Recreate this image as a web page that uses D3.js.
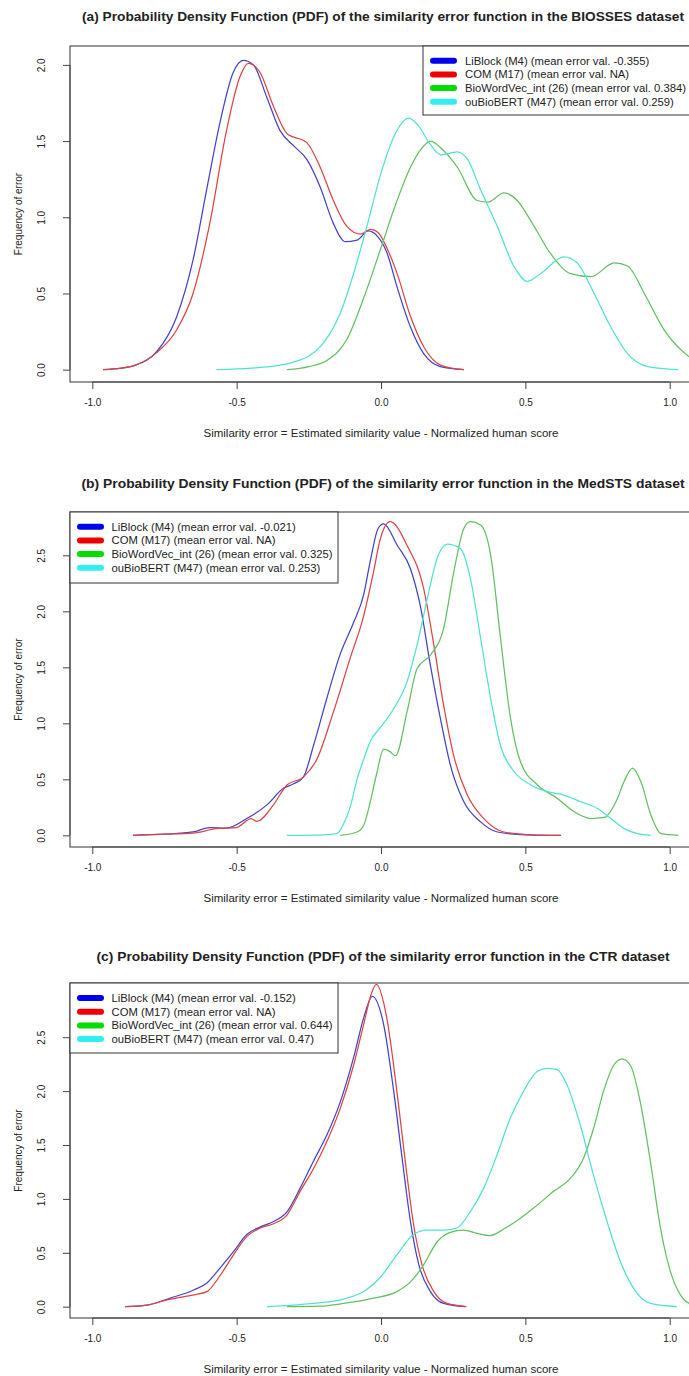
<!DOCTYPE html>
<html>
<head>
    <meta charset="utf-8">
    <script src="https://cdnjs.cloudflare.com/ajax/libs/d3/7.8.5/d3.min.js"></script>
    <style>
        body { margin: 0; background: #fff; }
        text { font-family: "Liberation Sans", Arial, sans-serif; fill: #222; }
        .title { font-weight: bold; font-size: 12px; }
        .tick-label, .axis-label { font-size: 10px; }
        .legend-text { font-size: 11px; }
        .frame { fill: none; stroke: #444; stroke-width: 1.1px; }
        .curve { fill: none; stroke-width: 1.25px; }
    </style>
</head>
<body>
    <div id="chart"></div>
    <script>
        const width = 689, height = 1376;

        // titles, legend labels and ticks
        const panelTitles = [
            "(a) Probability Density Function (PDF) of the similarity error function in the BIOSSES dataset",
            "(b) Probability Density Function (PDF) of the similarity error function in the MedSTS dataset",
            "(c) Probability Density Function (PDF) of the similarity error function in the CTR dataset"
        ];
        const seriesNames = ["LiBlock (M4)", "COM (M17)", "BioWordVec_int (26)", "ouBioBERT (M47)"];
        const meanErrors = [
            ["-0.355", "NA", "0.384", "0.259"],
            ["-0.021", "NA", "0.325", "0.253"],
            ["-0.152", "NA", "0.644", "0.47"]
        ];
        const xTicks = [-1.0, -0.5, 0.0, 0.5, 1.0];
        const yTicksA = [0.0, 0.5, 1.0, 1.5, 2.0];
        const yTicksB = [0.0, 0.5, 1.0, 1.5, 2.0, 2.5];
        const yTicksC = [0.0, 0.5, 1.0, 1.5, 2.0, 2.5];
        const xLabel = "Similarity error = Estimated similarity value - Normalized human score";
        const yLabel = "Frequency of error";

        // density curves: [error, density]
        const biossesLiBlock = [[-0.963,0],[-0.9,0.01],[-0.85,0.03],[-0.778,0.116],[-0.708,0.346],[-0.651,0.72],[-0.604,1.18],[-0.558,1.62],[-0.512,1.95],[-0.477,2.03],[-0.442,2.0],[-0.396,1.79],[-0.35,1.57],[-0.303,1.47],[-0.257,1.38],[-0.211,1.2],[-0.165,0.96],[-0.124,0.84],[-0.083,0.85],[-0.045,0.91],[-0.01,0.87],[0.02,0.77],[0.056,0.54],[0.102,0.28],[0.148,0.105],[0.206,0.02],[0.287,0]];
        const biossesCOM = [[-0.963,0],[-0.9,0.01],[-0.85,0.03],[-0.778,0.11],[-0.708,0.26],[-0.651,0.5],[-0.593,0.96],[-0.535,1.57],[-0.489,1.92],[-0.46,2.01],[-0.419,1.95],[-0.373,1.73],[-0.326,1.55],[-0.257,1.49],[-0.211,1.33],[-0.165,1.11],[-0.118,0.94],[-0.072,0.89],[-0.035,0.92],[-0.01,0.9],[0.02,0.8],[0.056,0.63],[0.102,0.35],[0.148,0.15],[0.206,0.03],[0.287,0]];
        const biossesBioWordVec = [[-0.326,0],[-0.25,0.02],[-0.188,0.06],[-0.118,0.2],[-0.06,0.47],[0,0.8],[0.05,1.08],[0.1,1.32],[0.14,1.45],[0.171,1.5],[0.21,1.45],[0.264,1.33],[0.333,1.11],[0.37,1.1],[0.426,1.16],[0.472,1.11],[0.518,0.98],[0.588,0.76],[0.657,0.63],[0.727,0.61],[0.808,0.7],[0.854,0.68],[0.912,0.5],[0.981,0.26],[1.07,0.08],[1.12,0.02]];
        const biossesOuBioBERT = [[-0.57,0],[-0.45,0.01],[-0.35,0.03],[-0.303,0.05],[-0.25,0.09],[-0.211,0.15],[-0.176,0.24],[-0.141,0.37],[-0.095,0.63],[-0.049,0.94],[0,1.29],[0.05,1.55],[0.096,1.65],[0.13,1.6],[0.17,1.48],[0.206,1.41],[0.264,1.43],[0.3,1.38],[0.345,1.18],[0.403,0.94],[0.46,0.68],[0.507,0.58],[0.553,0.63],[0.634,0.74],[0.68,0.7],[0.738,0.5],[0.796,0.28],[0.854,0.105],[0.924,0.02],[1.03,0]];

        const medstsLiBlock = [[-0.859,0],[-0.75,0.01],[-0.651,0.03],[-0.593,0.07],[-0.535,0.065],[-0.465,0.15],[-0.396,0.27],[-0.338,0.42],[-0.303,0.46],[-0.269,0.52],[-0.234,0.8],[-0.188,1.22],[-0.141,1.62],[-0.095,1.9],[-0.06,2.15],[-0.037,2.45],[-0.01,2.74],[0.009,2.78],[0.056,2.59],[0.102,2.38],[0.136,2.05],[0.171,1.52],[0.206,1.04],[0.24,0.63],[0.287,0.3],[0.345,0.12],[0.403,0.03],[0.5,0.005],[0.623,0]];
        const medstsCOM = [[-0.859,0],[-0.75,0.01],[-0.651,0.02],[-0.57,0.06],[-0.5,0.07],[-0.45,0.15],[-0.43,0.125],[-0.373,0.27],[-0.326,0.45],[-0.269,0.52],[-0.222,0.68],[-0.165,1.1],[-0.107,1.58],[-0.06,1.96],[-0.026,2.35],[-0.002,2.65],[0.032,2.8],[0.09,2.59],[0.148,2.2],[0.183,1.7],[0.217,1.16],[0.252,0.71],[0.299,0.36],[0.356,0.15],[0.426,0.03],[0.52,0.005],[0.623,0]];
        const medstsBioWordVec = [[-0.141,0],[-0.083,0.03],[-0.06,0.09],[-0.037,0.3],[-0.015,0.55],[0.009,0.77],[0.03,0.75],[0.05,0.71],[0.09,1.1],[0.125,1.49],[0.171,1.61],[0.217,1.85],[0.252,2.35],[0.287,2.74],[0.31,2.8],[0.345,2.77],[0.38,2.5],[0.414,1.76],[0.449,1.04],[0.484,0.65],[0.542,0.45],[0.611,0.33],[0.669,0.21],[0.727,0.15],[0.773,0.16],[0.819,0.33],[0.842,0.48],[0.871,0.6],[0.9,0.48],[0.935,0.18],[0.97,0.015],[1.03,0]];
        const medstsOuBioBERT = [[-0.326,0],[-0.2,0.005],[-0.153,0.015],[-0.13,0.1],[-0.107,0.25],[-0.083,0.5],[-0.06,0.68],[-0.037,0.84],[0,0.97],[0.044,1.13],[0.09,1.37],[0.125,1.7],[0.16,2.11],[0.194,2.47],[0.229,2.6],[0.275,2.56],[0.31,2.29],[0.345,1.76],[0.38,1.22],[0.414,0.8],[0.461,0.57],[0.519,0.45],[0.576,0.39],[0.634,0.36],[0.692,0.3],[0.75,0.24],[0.796,0.15],[0.842,0.06],[0.889,0.015],[0.935,0]];

        const ctrLiBlock = [[-0.886,0],[-0.811,0.015],[-0.73,0.08],[-0.649,0.155],[-0.603,0.22],[-0.557,0.36],[-0.511,0.51],[-0.465,0.67],[-0.418,0.74],[-0.372,0.79],[-0.326,0.88],[-0.28,1.1],[-0.234,1.35],[-0.188,1.59],[-0.141,1.9],[-0.095,2.31],[-0.06,2.68],[-0.03,2.88],[0.009,2.62],[0.044,2.0],[0.073,1.38],[0.102,0.79],[0.131,0.39],[0.171,0.14],[0.217,0.03],[0.292,0]];
        const ctrCOM = [[-0.886,0],[-0.811,0.015],[-0.73,0.07],[-0.649,0.11],[-0.603,0.14],[-0.557,0.29],[-0.511,0.48],[-0.465,0.65],[-0.418,0.73],[-0.372,0.77],[-0.326,0.85],[-0.28,1.07],[-0.234,1.28],[-0.188,1.53],[-0.141,1.84],[-0.095,2.24],[-0.06,2.62],[-0.035,2.89],[-0.016,2.99],[0.02,2.68],[0.055,2.0],[0.084,1.35],[0.113,0.76],[0.142,0.39],[0.183,0.14],[0.229,0.03],[0.296,0]];
        const ctrBioWordVec = [[-0.326,0],[-0.211,0.005],[-0.13,0.03],[-0.025,0.08],[0.055,0.14],[0.102,0.23],[0.148,0.39],[0.194,0.6],[0.24,0.69],[0.286,0.71],[0.333,0.68],[0.379,0.66],[0.425,0.72],[0.483,0.82],[0.54,0.94],[0.598,1.07],[0.656,1.19],[0.702,1.38],[0.737,1.66],[0.771,2.0],[0.806,2.24],[0.835,2.3],[0.864,2.24],[0.898,1.9],[0.933,1.35],[0.968,0.73],[1.002,0.33],[1.037,0.11],[1.068,0.03],[1.12,0]];
        const ctrOuBioBERT = [[-0.395,0],[-0.234,0.03],[-0.13,0.07],[-0.06,0.14],[0,0.28],[0.055,0.48],[0.113,0.67],[0.159,0.71],[0.217,0.71],[0.263,0.73],[0.309,0.88],[0.356,1.1],[0.402,1.41],[0.448,1.75],[0.494,2.0],[0.54,2.18],[0.575,2.21],[0.61,2.2],[0.644,2.06],[0.69,1.69],[0.736,1.22],[0.783,0.79],[0.829,0.42],[0.875,0.17],[0.933,0.03],[1.025,0]];

        const lineColors = ["#4343c8", "#dc4444", "#62c062", "#4ee3d0"];
        const keyColors = ["#0000ee", "#ee0000", "#00dd00", "#33eeee"];

        const panels = [
            { title: panelTitles[0], titleY: 21, titleW: 602, top: 46, bottom: 382, yDom: [-0.081, 2.124], yTicks: yTicksA,
              series: [biossesLiBlock, biossesCOM, biossesBioWordVec, biossesOuBioBERT], means: meanErrors[0],
              legend: { x: 423, y: 46, w: 280, h: 69, row0: 60.7, swX: 430, txX: 465 } },
            { title: panelTitles[1], titleY: 488, titleW: 603, top: 512, bottom: 847, yDom: [-0.104, 2.887], yTicks: yTicksB,
              series: [medstsLiBlock, medstsCOM, medstsBioWordVec, medstsOuBioBERT], means: meanErrors[1],
              legend: { x: 70, y: 512, w: 268, h: 71, row0: 526.7, swX: 77, txX: 111.5 } },
            { title: panelTitles[2], titleY: 961, titleW: 573, top: 983, bottom: 1318, yDom: [-0.105, 3.003], yTicks: yTicksC,
              series: [ctrLiBlock, ctrCOM, ctrBioWordVec, ctrOuBioBERT], means: meanErrors[2],
              legend: { x: 70, y: 983, w: 268, h: 70, row0: 998, swX: 77, txX: 111.5 } }
        ];

        const plotLeft = 70, plotRight = 697;
        const legendTextW = 221;   // width of the longest legend line in the picture
        const x = d3.scaleLinear().domain([-1, 1]).range([92.3, 669.7]);
        const fmt = d => d.toFixed(1);

        const svg = d3.select("#chart").append("svg")
            .attr("width", width).attr("height", height);

        panels.forEach((p, i) => {
            const g = svg.append("g");
            const y = d3.scaleLinear().domain(p.yDom).range([p.bottom, p.top]);

            const clipId = "clip" + i;
            svg.append("clipPath").attr("id", clipId)
                .append("rect").attr("x", plotLeft).attr("y", p.top)
                .attr("width", plotRight - plotLeft).attr("height", p.bottom - p.top);

            // title
            g.append("text").attr("class", "title")
                .attr("x", 383).attr("y", p.titleY)
                .attr("text-anchor", "middle")
                .attr("textLength", p.titleW).attr("lengthAdjust", "spacingAndGlyphs")
                .text(p.title);

            // curves
            const line = d3.line().x(d => x(d[0])).y(d => y(d[1])).curve(d3.curveMonotoneX);
            const curves = g.append("g").attr("clip-path", `url(#${clipId})`);
            p.series.forEach((s, k) => {
                curves.append("path").attr("class", "curve")
                    .attr("d", line(s))
                    .attr("stroke", lineColors[k]);
            });

            // frame
            g.append("rect").attr("class", "frame")
                .attr("x", plotLeft).attr("y", p.top)
                .attr("width", plotRight - plotLeft).attr("height", p.bottom - p.top);

            // x axis
            const xAxis = d3.axisBottom(x).tickValues(xTicks).tickSize(7).tickPadding(10).tickFormat(fmt);
            const gx = g.append("g").attr("transform", `translate(0,${p.bottom})`).call(xAxis);
            gx.select(".domain").attr("d", `M${x(-1)},0H${x(1)}`).attr("stroke", "#444");
            gx.selectAll(".tick line").attr("stroke", "#444");
            gx.selectAll(".tick text").attr("class", "tick-label").attr("fill", "#222")
                .style("font-family", "'Liberation Sans', Arial, sans-serif");

            // y axis
            const yAxis = d3.axisLeft(y).tickValues(p.yTicks).tickSize(7).tickFormat(fmt);
            const gy = g.append("g").attr("transform", `translate(${plotLeft},0)`).call(yAxis);
            gy.select(".domain").attr("d", `M0,${y(p.yTicks[0])}V${y(p.yTicks[p.yTicks.length - 1])}`).attr("stroke", "#444");
            gy.selectAll(".tick line").attr("stroke", "#444");
            gy.selectAll(".tick text")
                .attr("class", "tick-label").attr("fill", "#222")
                .style("font-family", "'Liberation Sans', Arial, sans-serif")
                .attr("x", null).attr("dy", null)
                .attr("text-anchor", "middle")
                .attr("transform", "translate(-29,0) rotate(-90)")
                .attr("y", 3.5);

            // axis titles
            g.append("text").attr("class", "axis-label")
                .attr("x", 381).attr("y", p.bottom + 55)
                .attr("text-anchor", "middle")
                .attr("textLength", 355).attr("lengthAdjust", "spacingAndGlyphs")
                .text(xLabel);
            g.append("text").attr("class", "axis-label")
                .attr("transform", `translate(22,${(p.top + p.bottom) / 2}) rotate(-90)`)
                .attr("text-anchor", "middle")
                .text(yLabel);

            // legend
            const L = p.legend;
            const lg = g.append("g");
            lg.append("rect").attr("x", L.x).attr("y", L.y).attr("width", L.w).attr("height", L.h)
                .attr("fill", "#fff").attr("stroke", "#333").attr("stroke-width", 1);
            const labels = [];
            seriesNames.forEach((name, k) => {
                const ry = L.row0 + k * 13.7;
                lg.append("line")
                    .attr("x1", L.swX + 3).attr("x2", L.swX + 24)
                    .attr("y1", ry).attr("y2", ry)
                    .attr("stroke", keyColors[k]).attr("stroke-width", 6)
                    .attr("stroke-linecap", "round");
                labels.push(lg.append("text").attr("class", "legend-text")
                    .attr("x", L.txX).attr("y", ry + 4)
                    .text(`${name} (mean error val. ${p.means[k]})`));
            });
            // stretch the legend lines to the width seen in the picture
            const widths = labels.map(t => t.node().getComputedTextLength());
            const k = legendTextW / d3.max(widths);
            labels.forEach((t, j) => t.attr("textLength", widths[j] * k).attr("lengthAdjust", "spacingAndGlyphs"));
        });
    </script>
</body>
</html>
